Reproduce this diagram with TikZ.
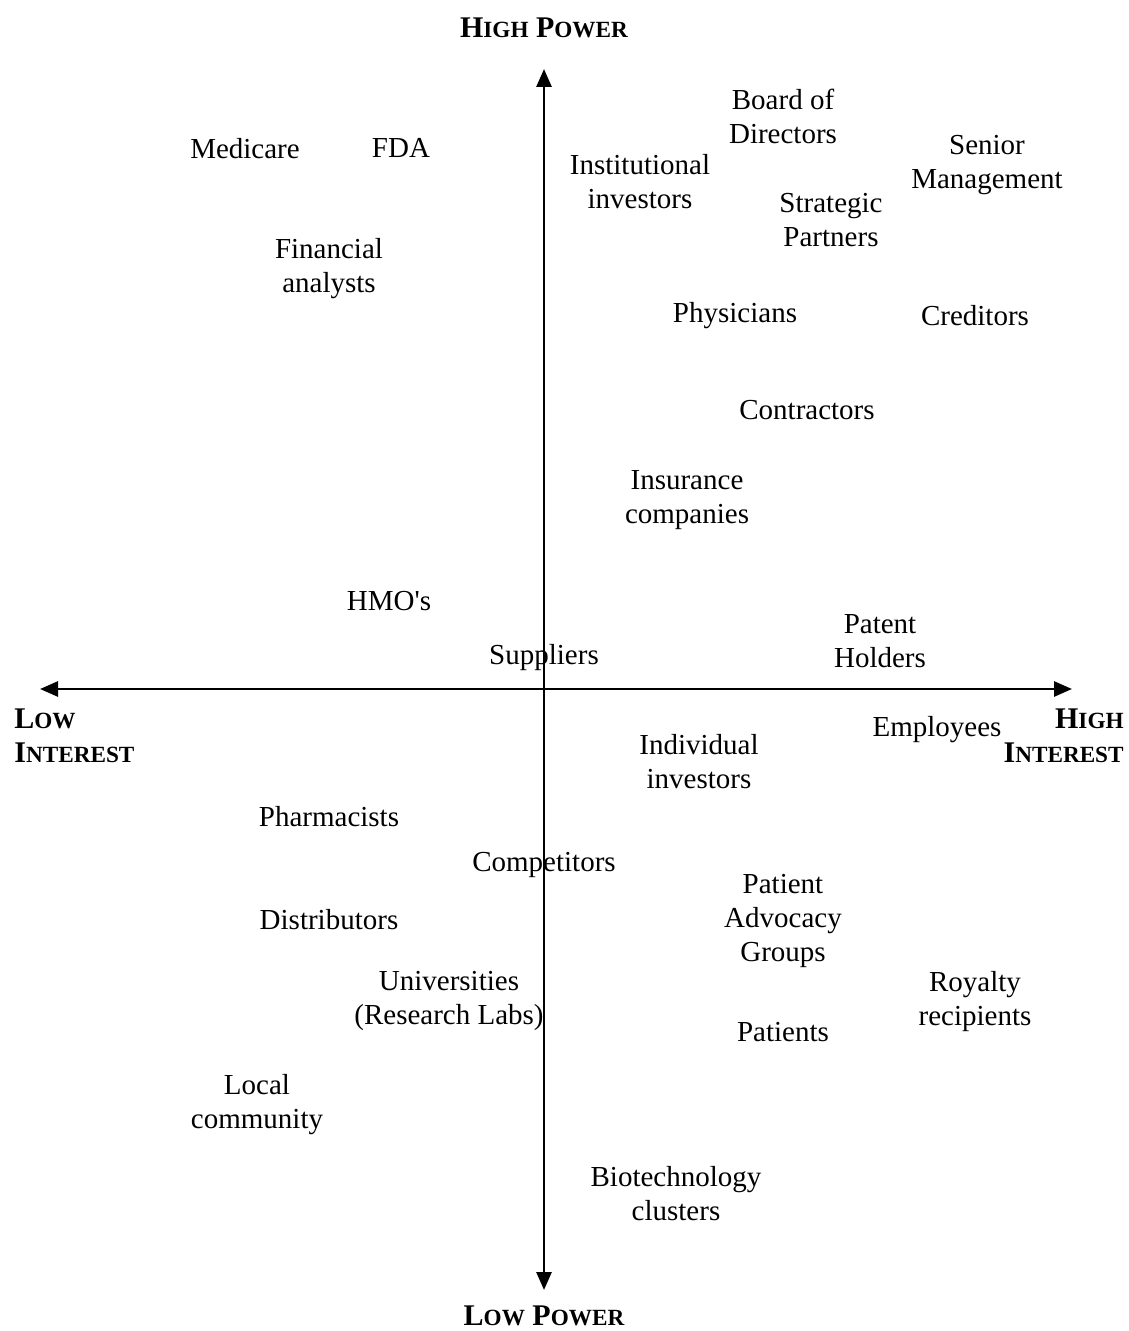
\documentclass[tikz,border=0pt]{standalone}
\usepackage{fontspec}
\setmainfont{Liberation Serif}
\usetikzlibrary{arrows.meta}
\newcommand{\capbig}[1]{{\fontsize{15}{17}\selectfont #1}}
\newcommand{\capsm}[1]{{\fontsize{11.6}{17}\selectfont #1}}
\begin{document}
\begin{tikzpicture}[x=0.5pt,y=-0.5pt,
  lbl/.style={align=center,font=\fontsize{14.5}{17}\selectfont,inner sep=0pt,yshift=-1.6pt},
  axlbl/.style={align=center,font=\bfseries\fontsize{15}{17}\selectfont,inner sep=0pt},
  axis/.style={line width=1.4pt,-{Triangle[length=9pt,width=7.5pt]}}]
\useasboundingbox (0,0) rectangle (1128,1331);
% axes
\coordinate (O) at (544,689);
\coordinate (top) at (544,69);
\coordinate (bot) at (544,1290);
\coordinate (lft) at (40,689);
\coordinate (rgt) at (1072,689);
\draw[axis] (O) -- (top);
\draw[axis] (O) -- (bot);
\draw[axis] (O) -- (lft);
\draw[axis] (O) -- (rgt);
% axis labels
\node[axlbl] (hp) at (544,28) {\capbig{H}\capsm{IGH} \capbig{P}\capsm{OWER}};
\node[axlbl] (lp) at (544,1316) {\capbig{L}\capsm{OW} \capbig{P}\capsm{OWER}};
\node[axlbl,anchor=west,align=left] (li) at (14,736) {\capbig{L}\capsm{OW}\\\capbig{I}\capsm{NTEREST}};
\node[axlbl,anchor=east,align=right] (hi) at (1124,736) {\capbig{H}\capsm{IGH}\\\capbig{I}\capsm{NTEREST}};
% stakeholders
\node[lbl] (medicare) at (245,145) {Medicare};
\node[lbl] (fda) at (401,145) {FDA};
\node[lbl] (fin) at (329,265) {Financial\\analysts};
\node[lbl] (inst) at (640,178) {Institutional\\investors};
\node[lbl] (board) at (783,113) {Board of\\Directors};
\node[lbl] (senior) at (987,162) {Senior\\Management};
\node[lbl] (strat) at (831,217) {Strategic\\Partners};
\node[lbl] (phys) at (735,312) {Physicians};
\node[lbl] (cred) at (975,312) {Creditors};
\node[lbl] (contr) at (807,407) {Contractors};
\node[lbl] (ins) at (687,497) {Insurance\\companies};
\node[lbl] (hmo) at (389,598) {HMO\textquotesingle s};
\node[lbl] (supp) at (544,654) {Suppliers};
\node[lbl] (patent) at (880,638) {Patent\\Holders};
\node[lbl] (indiv) at (699,758) {Individual\\investors};
\node[lbl] (empl) at (937,726) {Employees};
\node[lbl] (pharm) at (329,813) {Pharmacists};
\node[lbl] (comp) at (544,862) {Competitors};
\node[lbl] (pag) at (783,918) {Patient\\Advocacy\\Groups};
\node[lbl] (dist) at (329,916) {Distributors};
\node[lbl] (univ) at (449,998) {Universities\\(Research Labs)};
\node[lbl] (roy) at (975,998) {Royalty\\recipients};
\node[lbl] (pat) at (783,1029) {Patients};
\node[lbl] (local) at (257,1101) {Local\\community};
\node[lbl] (bio) at (676,1190) {Biotechnology\\clusters};
\end{tikzpicture}
\end{document}
